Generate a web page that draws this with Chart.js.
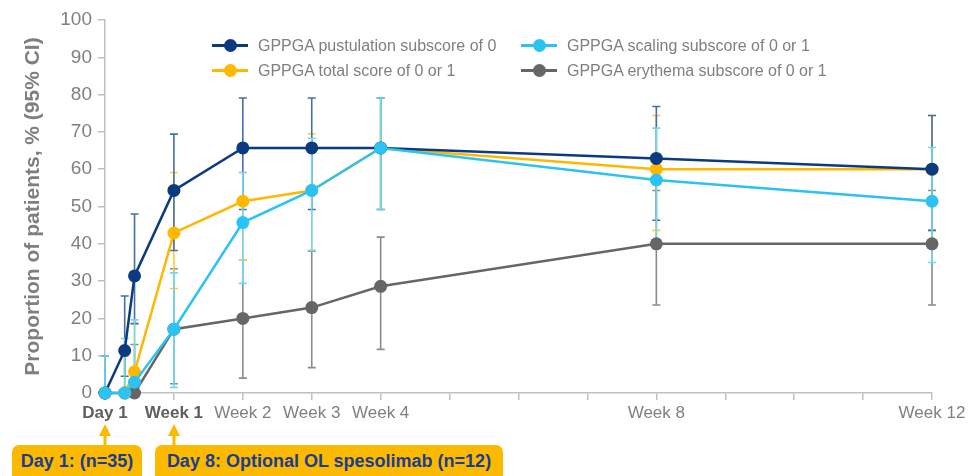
<!DOCTYPE html>
<html>
<head>
<meta charset="utf-8">
<script src="https://cdn.jsdelivr.net/npm/chart.js@4.4.1/dist/chart.umd.min.js"></script>
<style>
html,body{margin:0;padding:0;background:#fff;}
#wrap{position:relative;width:971px;height:476px;overflow:hidden;font-family:'Liberation Sans',Arial,sans-serif;}
#wrap canvas{position:absolute;left:0;top:0;}
#legend{position:absolute;left:212px;top:33px;display:grid;grid-template-columns:309px auto;}
.li{display:flex;align-items:center;height:25px;font-size:16px;color:#7f7f7f;white-space:nowrap;}
.mk{position:relative;width:36px;height:25px;margin-right:10px;flex:none;}
.mk .ln{position:absolute;left:0;right:0;top:11px;height:3px;}
.mk .dt{position:absolute;left:11.5px;top:6px;width:13px;height:13px;border-radius:50%;}
.box{position:absolute;top:445px;height:40px;background:#fbb900;border-radius:7px;color:#1b3d8f;font-weight:bold;font-size:18px;line-height:33px;text-align:center;box-sizing:border-box;white-space:nowrap;}
</style>
</head>
<body>
<div id="wrap">
  <canvas id="c" width="971" height="476"></canvas>
  <div id="legend"></div>
  <div class="box" style="left:12px;width:130px;">Day 1: (n=35)</div>
  <div class="box" style="left:155px;width:348px;">Day 8: Optional OL spesolimab (n=12)</div>
</div>
<script>
// ---- data ----
const days = [0, 2, 3, 7, 14, 21, 28, 56, 84];

const pustulation   = [0, 11.4, 31.4, 54.3, 65.7, 65.7, 65.7, 62.9, 60.0];
const pustulationLo = [0, 4.5, 18.6, 38.2, 49.2, 49.2, 49.2, 46.3, 43.6];
const pustulationHi = [9.9, 26.0, 48.0, 69.4, 79.1, 79.1, 79.1, 76.8, 74.4];

const scaling   = [0, 0, 2.9, 17.1, 45.7, 54.3, 65.7, 57.1, 51.4];
const scalingLo = [0, 0, 0.5, 1.5, 29.4, 38.2, 49.2, 40.9, 35.0];
const scalingHi = [9.9, 14.6, 19.6, 32.2, 59.1, 68.3, 79.1, 71.0, 65.8];

const total   = [0, 0, 5.7, 42.9, 51.4, 54.3, 65.7, 60.0, 60.0];
const totalLo = [0, 0, 1.6, 28.0, 35.6, 38.2, 49.2, 43.6, 43.6];
const totalHi = [9.9, 9.9, 18.6, 59.1, 59.1, 69.5, 79.1, 74.4, 74.4];

const erythema   = [0, 0, 0, 17.1, 20.0, 22.9, 28.6, 40.0, 40.0];
const erythemaLo = [0, 0, 0, 2.5, 4.0, 6.8, 11.7, 23.6, 23.6];
const erythemaHi = [9.9, 9.9, 13.0, 33.3, 35.6, 38.0, 41.8, 54.3, 54.3];

const seriesNames = [
  'GPPGA pustulation subscore of 0',
  'GPPGA scaling subscore of 0 or 1',
  'GPPGA total score of 0 or 1',
  'GPPGA erythema subscore of 0 or 1'
];

const tickDays   = [0, 7, 14, 21, 28, 56, 84];
const tickLabels = ['Day 1', 'Week 1', 'Week 2', 'Week 3', 'Week 4', 'Week 8', 'Week 12'];
const boldTickDays = [0, 7];
const arrowDays = [0, 7];

// ---- styles ----
const colors    = ['#0b3a80', '#2bc3f4', '#ffb800', '#666666'];
const errColors = ['#4470aa', '#72d6f7', '#ffc93a', '#8c8c8c'];
const drawOrder = [0, 1, 2, 3]; // lower = on top
const FONT = "'Liberation Sans', Arial, sans-serif";

function pts(vals){ return days.map((d,i)=>({x:d, y:vals[i]})); }

const seriesVals = [pustulation, scaling, total, erythema];
const seriesLo = [pustulationLo, scalingLo, totalLo, erythemaLo];
const seriesHi = [pustulationHi, scalingHi, totalHi, erythemaHi];
const orderMap = [1, 0, 2, 3]; // scaling on top, then pustulation, total, erythema

const datasets = seriesVals.map((v,i)=>({
  label: seriesNames[i],
  data: pts(v),
  lo: seriesLo[i],
  hi: seriesHi[i],
  errColor: errColors[i],
  borderColor: colors[i],
  backgroundColor: colors[i],
  pointBackgroundColor: colors[i],
  pointBorderWidth: 0,
  pointRadius: 6.5,
  borderWidth: 2.5,
  tension: 0,
  clip: false,
  order: orderMap[i]
}));

const errorBars = {
  id: 'errorBars',
  beforeDatasetsDraw(chart){
    const {ctx, scales:{x, y}} = chart;
    const seq = [3, 2, 0, 1];
    ctx.save();
    ctx.lineWidth = 1.6;
    seq.forEach(i=>{
      const ds = chart.data.datasets[i];
      ctx.strokeStyle = ds.errColor;
      ds.data.forEach((p,j)=>{
        const px = x.getPixelForValue(p.x);
        const yl = y.getPixelForValue(ds.lo[j]);
        const yh = y.getPixelForValue(ds.hi[j]);
        ctx.beginPath();
        ctx.moveTo(px, yl); ctx.lineTo(px, yh);
        ctx.moveTo(px-4, yh); ctx.lineTo(px+4, yh);
        if (ds.lo[j] > 0) { ctx.moveTo(px-4, yl); ctx.lineTo(px+4, yl); }
        ctx.stroke();
      });
    });
    ctx.restore();
  }
};

const arrows = {
  id: 'arrows',
  afterDraw(chart){
    const {ctx, scales:{x}} = chart;
    ctx.save();
    ctx.fillStyle = '#fbb900';
    arrowDays.forEach(d=>{
      const px = Math.round(x.getPixelForValue(d));
      ctx.fillRect(px-1.5, 433, 3, 13);
      ctx.beginPath();
      ctx.moveTo(px, 424); ctx.lineTo(px-6, 436); ctx.lineTo(px+6, 436);
      ctx.closePath(); ctx.fill();
    });
    ctx.restore();
  }
};

const chart = new Chart(document.getElementById('c'), {
  type: 'line',
  data: { datasets },
  plugins: [errorBars, arrows],
  options: {
    responsive: false,
    devicePixelRatio: 1,
    animation: false,
    layout: { padding: { top: 20, right: 39, bottom: 0, left: 0 } },
    plugins: { legend: { display: false }, tooltip: { enabled: false } },
    scales: {
      x: {
        type: 'linear', min: 0, max: 84,
        afterFit(s){ s.height = 83; },
        border: { display: true, color: '#bfbfbf', width: 1.5 },
        grid: { display: true, drawOnChartArea: false, drawTicks: true, tickLength: 7, color: '#bfbfbf', lineWidth: 1.5 },
        ticks: {
          stepSize: 7, autoSkip: false, maxRotation: 0, minRotation: 0, padding: 3,
          callback(v){ const i = tickDays.indexOf(v); return i >= 0 ? tickLabels[i] : ''; },
          font(ctx){ const b = ctx.tick && boldTickDays.includes(ctx.tick.value); return { family: FONT, size: 17, weight: b ? 'bold' : 'normal' }; },
          color(ctx){ const b = ctx.tick && boldTickDays.includes(ctx.tick.value); return b ? '#5f5f5f' : '#808080'; }
        }
      },
      y: {
        min: 0, max: 100,
        afterFit(s){ s.width = 105; },
        border: { display: true, color: '#bfbfbf', width: 1.5 },
        grid: { display: true, drawOnChartArea: false, drawTicks: true, tickLength: 7, color: '#bfbfbf', lineWidth: 1.5 },
        ticks: { stepSize: 10, padding: 6, color: '#7f7f7f', font: { family: FONT, size: 19 } },
        title: { display: true, text: 'Proportion of patients, % (95% CI)', color: '#7f7f7f', font: { family: FONT, size: 21, weight: 'bold' }, padding: { top: 21, bottom: 0 } }
      }
    }
  }
});

// HTML legend built from the chart's datasets
const legendOrder = [0, 1, 2, 3];
const lg = document.getElementById('legend');
legendOrder.forEach(i=>{
  const ds = chart.data.datasets[i];
  const item = document.createElement('div');
  item.className = 'li';
  item.innerHTML = '<span class="mk"><span class="ln" style="background:'+ds.borderColor+'"></span><span class="dt" style="background:'+ds.borderColor+'"></span></span><span>'+ds.label+'</span>';
  lg.appendChild(item);
});
</script>
</body>
</html>
